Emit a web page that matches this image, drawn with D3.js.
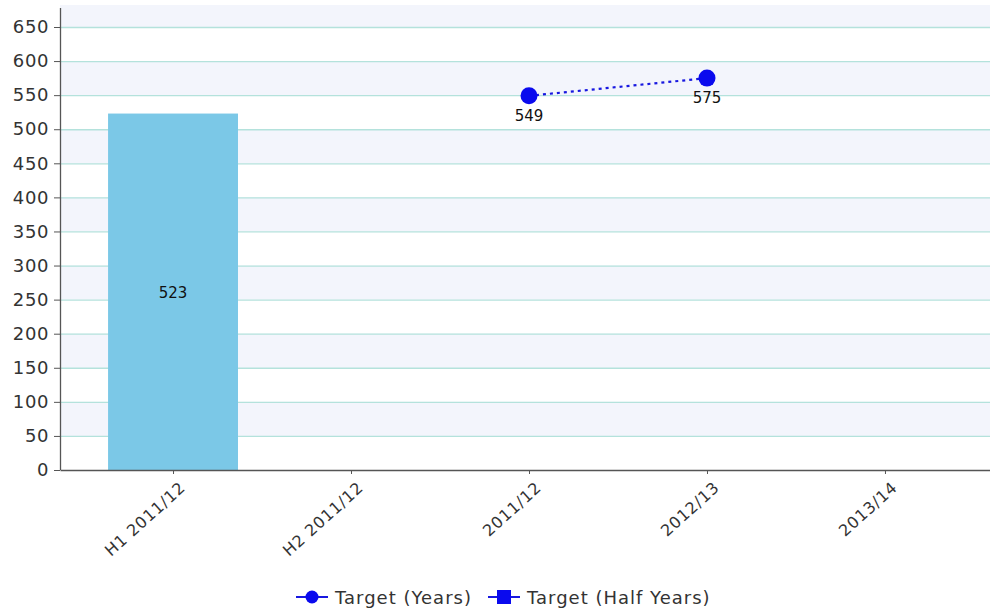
<!DOCTYPE html>
<html><head><meta charset="utf-8">
<script src="https://cdn.jsdelivr.net/npm/d3@7"></script>
<style>body{margin:0;background:#fff}svg{display:block}</style>
</head><body>
<svg id="c" width="990" height="613"></svg>
<script>
const categories = ["H1 2011/12","H2 2011/12","2011/12","2012/13","2013/14"];
const halfYearValues = [523, null, null, null, null];
const yearValues = [null, null, 549, 575, null];
const yTicks = [0,50,100,150,200,250,300,350,400,450,500,550,600,650];
const legendLabels = ["Target (Years)", "Target (Half Years)"];

(function(){
const svg = d3.select("#c");
const left = 60, right = 998, plotTop = 5, bottom = 470;
const x = d3.scalePoint().domain(categories).range([left, right]).padding(0.635);
const y = d3.scaleLinear().domain([0, 650]).range([bottom, 27]);
const font = "DejaVu Sans, Verdana, sans-serif";

// background bands
const bandBounds = d3.range(0, 700, 50);
svg.append("g").selectAll("rect").data(bandBounds.filter(v => (v/50) % 2 === 1))
  .join("rect").attr("x", left).attr("width", 990-left)
  .attr("y", d => Math.max(plotTop, y(d+50))).attr("height", d => y(d) - Math.max(plotTop, y(d+50)))
  .attr("fill", "#f3f5fc");

// grid
svg.append("g").selectAll("line").data(yTicks.filter(d => d>0)).join("line")
  .attr("x1", left).attr("x2", 990).attr("y1", d => y(d)+0.5).attr("y2", d => y(d)+0.5)
  .attr("stroke", "#b4e2dc").attr("stroke-width", 1.3);

// bars
const bw = x.step()*0.73;
const barData = categories.map((c,i)=>({c, v: halfYearValues[i]})).filter(d=>d.v!=null);
svg.append("g").selectAll("rect").data(barData)
  .join("rect").attr("x", d => x(d.c)-bw/2).attr("width", bw)
  .attr("y", d => y(d.v)).attr("height", d => y(0)-y(d.v)).attr("fill", "#7bc8e7");
svg.append("g").selectAll("text").data(barData)
  .join("text").attr("x", d => x(d.c)).attr("y", d => (y(d.v)+y(0))/2+6)
  .attr("text-anchor","middle").attr("font-family", font).attr("font-size", 15).attr("fill","#111").text(d=>d.v);

// axes
const yAxis = svg.append("g").attr("transform", `translate(${left},0)`)
  .call(d3.axisLeft(y).tickValues(yTicks).tickSize(6).tickPadding(5));
yAxis.select(".domain").remove();
yAxis.selectAll("line").attr("stroke","#555");
yAxis.selectAll("text").attr("font-family", font).attr("font-size", 18).attr("letter-spacing", 0.6).attr("fill","#333");
svg.append("line").attr("x1", left+0.5).attr("x2", left+0.5).attr("y1", 8).attr("y2", bottom).attr("stroke","#555").attr("stroke-width",1.3);

const xAxis = svg.append("g").attr("transform", `translate(0,${bottom})`)
  .call(d3.axisBottom(x).tickSize(4).tickSizeOuter(0));
xAxis.select(".domain").attr("stroke","#555").attr("stroke-width",1.3);
xAxis.selectAll("line").attr("stroke","#555");
xAxis.selectAll("text").attr("font-family", font).attr("font-size", 16).attr("letter-spacing", 0.8).attr("fill","#333")
  .attr("text-anchor","end").attr("dy", null)
  .attr("transform","translate(13,19) rotate(-42)").attr("y", 0).attr("x", 0);

// line
const pts = categories.map((c,i)=>({c, v: yearValues[i]})).filter(d=>d.v!=null);
svg.append("path").datum(pts)
  .attr("d", d3.line().x(d=>x(d.c)).y(d=>y(d.v)))
  .attr("fill","none").attr("stroke","#1818e0").attr("stroke-width",2.2).attr("stroke-dasharray","3,4");
svg.append("g").selectAll("circle").data(pts).join("circle")
  .attr("cx", d=>x(d.c)).attr("cy", d=>y(d.v)).attr("r", 8.5).attr("fill","#0a0aee");
svg.append("g").selectAll("text").data(pts).join("text")
  .attr("x", d=>x(d.c)).attr("y", d=>y(d.v)+25).attr("text-anchor","middle")
  .attr("font-family", font).attr("font-size", 15).attr("fill","#111").text(d=>d.v);

// legend
const lg = svg.append("g").attr("font-family", font).attr("font-size", 18).attr("letter-spacing", 1).attr("fill","#333");
const lx = [296, 488];
legendLabels.forEach((t,i) => {
  const g = lg.append("g").attr("transform", `translate(${lx[i]},597)`);
  g.append("line").attr("x1",0).attr("x2",32).attr("stroke","#1818e0").attr("stroke-width",2);
  if (i===0) g.append("circle").attr("cx",16).attr("r",6.5).attr("fill","#0a0aee");
  else g.append("rect").attr("x",9).attr("y",-7).attr("width",14).attr("height",14).attr("fill","#0a0aee");
  g.append("text").attr("x", i===0?39:39).attr("y",7).attr("fill","#333").text(t);
});
})();
</script>
</body></html>
